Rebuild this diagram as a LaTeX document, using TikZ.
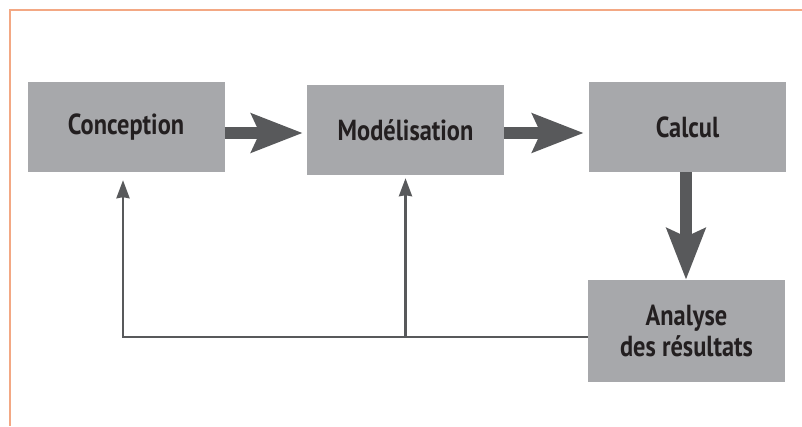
\documentclass[tikz,border=0pt]{standalone}
\usepackage{fontspec}
\setmainfont{PT Sans}[FakeStretch=0.84]
\usetikzlibrary{arrows.meta}
\definecolor{boxgray}{RGB}{167,168,171}
\definecolor{arrowgray}{RGB}{88,89,91}
\definecolor{textdark}{RGB}{35,31,32}
\definecolor{frameorange}{RGB}{243,168,132}
\begin{document}
\begin{tikzpicture}[x=1pt, y=-1pt,
    box/.style={fill=boxgray, minimum width=197pt, minimum height=90pt, inner sep=0pt,
        font=\fontsize{29}{31}\selectfont\bfseries, text=textdark, align=center},
    bigarrow/.style={draw=arrowgray, line width=12pt,
        -{Stealth[length=51pt, width=38pt, inset=8pt]}},
    fback/.style={draw=arrowgray, line width=2.6pt,
        -{Stealth[length=18pt, width=13pt, inset=1pt]}}]
\useasboundingbox (0,0) rectangle (802,426);
\draw[frameorange, line width=2pt] (802,10) -- (10,10) -- (10,426);

\node[box] (conception) at (126,127) {Conception};
\node[box] (modelisation) at (405.5,130) {Modélisation};
\node[box] (calcul) at (687.5,127) {Calcul};
\node[box, minimum height=102pt] (analyse) at (686.5,331) {Analyse\\des résultats};

\draw[bigarrow] ([yshift=-6pt]conception.east) -- ([xshift=-4pt,yshift=-3pt]modelisation.west);
\draw[bigarrow] ([yshift=-3pt]modelisation.east) -- ([xshift=-5pt,yshift=-6pt]calcul.west);
\draw[bigarrow] ([xshift=-1.5pt]calcul.south) -- ([xshift=-0.5pt]analyse.north);

\coordinate (corner) at (123,337);
\draw[fback] ([yshift=-6pt]analyse.west) -- (corner) -- ([xshift=-3pt,yshift=-8pt]conception.south);
\draw[fback] (modelisation.south |- corner) -- ([yshift=-3pt]modelisation.south);
\end{tikzpicture}
\end{document}
